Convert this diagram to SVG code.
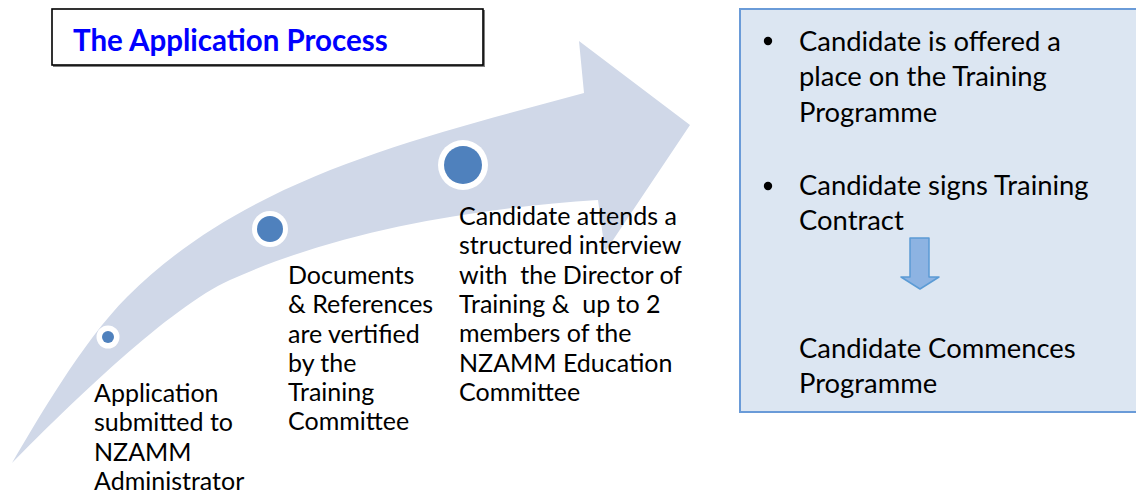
<svg xmlns="http://www.w3.org/2000/svg" width="1136" height="493" viewBox="0 0 1136 493">
  <style>
    .label { font-family: Lato, "Open Sans", "Liberation Sans", sans-serif; font-size: 25px; fill: #000; }
    .big { font-family: Lato, "Open Sans", "Liberation Sans", sans-serif; font-size: 27.4px; fill: #000; }
    .title { font-family: Lato, "Open Sans", "Liberation Sans", sans-serif; font-size: 29.5px; font-weight: bold; fill: #0000FF; }
    .dot-ring { fill: #FFFFFF; }
    .dot { fill: #4F81BD; }
  </style>
  <rect width="1136" height="493" fill="#FFFFFF"/>

  <!-- title box -->
  <g id="title">
    <rect x="53" y="10" width="432" height="57" fill="#808080"/>
    <rect x="52" y="9" width="431" height="56" fill="#FFFFFF" stroke="#000" stroke-width="1.6"/>
    <text class="title" x="73" y="51">The Application Process</text>
  </g>

  <!-- sweeping arrow -->
  <g id="arrow">
    <path d="M12,463 C35.6,423 82,342 127,297 C247,177 419,138 584,93 L579,41 L690,125 L605,252 L598,200 C478,208 340,230 230,280 C170,307 72,402 12,463 Z" fill="#D0D8E8"/>
  </g>

  <!-- milestone dots -->
  <g id="step1">
    <circle class="dot-ring" cx="108" cy="337" r="11.5"/>
    <circle class="dot" cx="108" cy="337" r="6"/>
    <text class="label" x="94" y="402">Application</text>
    <text class="label" x="94" y="431">submitted to</text>
    <text class="label" x="94" y="461">NZAMM</text>
    <text class="label" x="94" y="490">Administrator</text>
  </g>
  <g id="step2">
    <circle class="dot-ring" cx="270" cy="229" r="18"/>
    <circle class="dot" cx="270" cy="229" r="13"/>
    <text class="label" x="288" y="284">Documents</text>
    <text class="label" x="288" y="313">&amp; References</text>
    <text class="label" x="288" y="343">are vertified</text>
    <text class="label" x="288" y="372">by the</text>
    <text class="label" x="288" y="401">Training</text>
    <text class="label" x="288" y="430">Committee</text>
  </g>
  <g id="step3">
    <circle class="dot-ring" cx="463" cy="165" r="25"/>
    <circle class="dot" cx="463" cy="165" r="19"/>
    <text class="label" x="459" y="225">Candidate attends a</text>
    <text class="label" x="459" y="254">structured interview</text>
    <text class="label" x="459" y="284" xml:space="preserve">with  the Director of</text>
    <text class="label" x="459" y="313" xml:space="preserve">Training &amp;  up to 2</text>
    <text class="label" x="459" y="342">members of the</text>
    <text class="label" x="459" y="372">NZAMM Education</text>
    <text class="label" x="459" y="401">Committee</text>
  </g>

  <!-- outcome box -->
  <g id="outcome">
    <rect x="740" y="9" width="400" height="403" fill="#DCE6F2" stroke="#6A9BD8" stroke-width="2"/>
    <circle cx="768" cy="41" r="4.2" fill="#000"/>
    <text class="big" x="799" y="51">Candidate is offered a</text>
    <text class="big" x="799" y="86">place on the Training</text>
    <text class="big" x="799" y="122">Programme</text>
    <circle cx="768" cy="186" r="4.2" fill="#000"/>
    <text class="big" x="799" y="195">Candidate signs Training</text>
    <text class="big" x="799" y="230">Contract</text>
    <path d="M910,238 L929,238 L929,277 L939,277 L920,289 L901,277 L910,277 Z" fill="#8DB3E2" stroke="#5B9BD5" stroke-width="1.5" stroke-linejoin="round"/>
    <text class="big" x="799" y="358">Candidate Commences</text>
    <text class="big" x="799" y="393">Programme</text>
  </g>
</svg>
